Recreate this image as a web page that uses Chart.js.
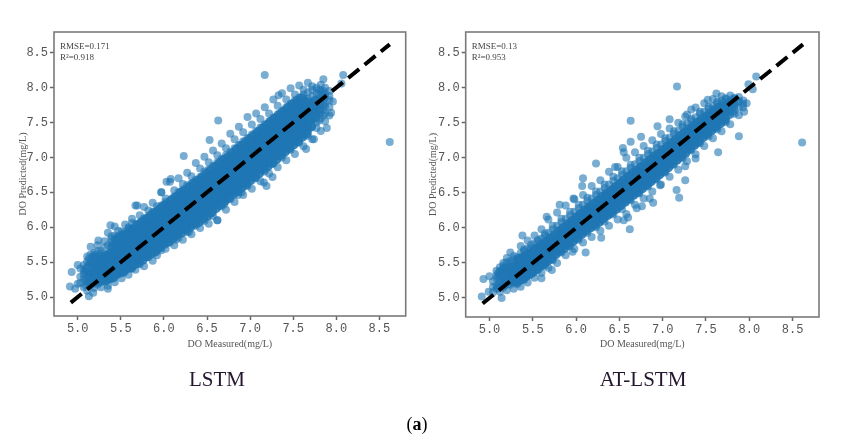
<!DOCTYPE html>
<html>
<head>
<meta charset="utf-8">
<title>LSTM vs AT-LSTM</title>
<script src="https://cdn.jsdelivr.net/npm/chart.js@4"></script>
<style>
  html, body { margin: 0; padding: 0; background: #fff; }
  #page { position: relative; width: 865px; height: 441px; overflow: hidden; }
  canvas { position: absolute; top: 0; filter: blur(0.45px); }
  #lstmChart { left: 0; }
  #atChart { left: 410px; }
  .caption { position: absolute; font-family: "Liberation Serif", serif; color: #24162f; white-space: nowrap; transform: translateX(-50%); filter: blur(0.3px); }
</style>
</head>
<body>
<div id="page">
  <canvas id="lstmChart"></canvas>
  <canvas id="atChart"></canvas>
  <div class="caption" style="left:217px;top:367px;font-size:21px">LSTM</div>
  <div class="caption" style="left:643px;top:367px;font-size:21px">AT-LSTM</div>
  <div class="caption" style="left:417px;top:414px;font-size:18px;color:#000">(<b>a</b>)</div>
</div>
<script>
// Tick labels
const tickValues = [5.0, 5.5, 6.0, 6.5, 7.0, 7.5, 8.0, 8.5];
const idealLine = [4.92, 8.62];

// LSTM: each row is one measured value followed by the predicted values read at it
const lstmColumns = [
  [5.03,5.2,5.29,5.41],
  [5.07,5.14,5.26,5.33,5.38,5.46],
  [5.09,5.17,5.24,5.36,5.41],
  [5.11,5.09,5.21,5.28,5.37,5.43,5.51,5.58],
  [5.13,5.19,5.27,5.33,5.46,5.55],
  [5.15,5.17,5.23,5.34,5.37,5.49,5.5,5.61,5.72],
  [5.17,5.21,5.34,5.29,5.42,5.48,5.57],
  [5.19,5.13,5.27,5.33,5.42,5.46,5.56,5.6,5.63],
  [5.21,5.2,5.31,5.38,5.44,5.59,5.52],
  [5.23,5.18,5.25,5.36,5.41,5.52,5.55,5.66,5.74],
  [5.27,5.14,5.31,5.36,5.45,5.5,5.59,5.62,5.66],
  [5.31,5.22,5.29,5.39,5.44,5.55,5.6,5.71,5.8],
  [5.35,5.16,5.33,5.41,5.46,5.58,5.61,5.74,5.92],
  [5.39,5.26,5.3,5.44,5.48,5.59,5.64,5.78,5.83,5.87],
  [5.43,5.21,5.36,5.43,5.52,5.58,5.69,5.75,5.88,6.01],
  [5.47,5.33,5.37,5.49,5.53,5.64,5.69,5.81,5.87,5.95],
  [5.51,5.27,5.41,5.47,5.57,5.63,5.74,5.8,5.94,5.9],
  [5.55,5.38,5.44,5.54,5.58,5.69,5.74,5.86,5.93,6.04],
  [5.59,5.32,5.46,5.53,5.62,5.68,5.79,5.85,5.98,6.0],
  [5.63,5.41,5.47,5.58,5.63,5.73,5.79,5.91,5.98,6.12],
  [5.67,5.39,5.52,5.58,5.68,5.74,5.85,5.91,6.05,6.31],
  [5.72,5.47,5.53,5.64,5.7,5.81,5.86,5.98,6.06,6.17],
  [5.77,5.44,5.58,5.65,5.76,5.83,5.93,6.0,6.13,6.29],
  [5.82,5.57,5.62,5.73,5.78,5.89,5.95,6.06,6.15,6.24],
  [5.87,5.52,5.69,5.74,5.85,5.91,6.03,6.09,6.22,6.35],
  [5.92,5.6,5.7,5.81,5.87,5.98,6.04,6.16,6.24,6.3],
  [5.97,5.67,5.75,5.83,5.94,6.0,6.11,6.18,6.31,6.5],
  [6.02,5.69,5.81,5.88,5.98,6.05,6.16,6.23,6.36,6.41],
  [6.07,5.78,5.83,5.94,6.01,6.12,6.19,6.3,6.38,6.65],
  [6.12,5.74,5.88,5.99,6.06,6.17,6.24,6.35,6.44,6.53],
  [6.17,5.85,5.93,6.01,6.12,6.19,6.3,6.37,6.5,6.7],
  [6.22,5.82,5.96,6.07,6.14,6.26,6.33,6.44,6.54,6.62],
  [6.27,5.93,6.02,6.09,6.21,6.28,6.39,6.47,6.6,6.78],
  [6.32,5.9,6.04,6.16,6.23,6.35,6.42,6.54,6.63,6.73],
  [6.37,6.02,6.09,6.2,6.28,6.39,6.47,6.58,6.68,6.92],
  [6.42,5.99,6.13,6.25,6.33,6.44,6.52,6.63,6.72,6.84],
  [6.47,6.09,6.17,6.29,6.37,6.49,6.56,6.68,6.8,7.01],
  [6.52,6.05,6.2,6.33,6.41,6.53,6.6,6.72,6.83,6.93],
  [6.57,6.16,6.26,6.38,6.46,6.57,6.65,6.77,6.88,7.1],
  [6.62,6.1,6.31,6.43,6.5,6.62,6.7,6.82,6.93,7.03],
  [6.67,6.3,6.37,6.48,6.56,6.67,6.75,6.87,6.98,7.2],
  [6.72,6.25,6.42,6.53,6.6,6.72,6.8,6.92,7.03,7.13],
  [6.77,6.4,6.47,6.58,6.65,6.77,6.85,6.97,7.08,7.34],
  [6.82,6.36,6.52,6.63,6.7,6.82,6.9,7.02,7.13,7.26],
  [6.87,6.5,6.57,6.68,6.75,6.87,6.95,7.07,7.18,7.44],
  [6.92,6.46,6.62,6.73,6.8,6.92,7.0,7.12,7.23,7.36],
  [6.97,6.59,6.67,6.78,6.85,6.97,7.05,7.17,7.28,7.58],
  [7.02,6.55,6.72,6.83,6.9,7.02,7.1,7.22,7.33,7.47],
  [7.07,6.7,6.77,6.88,6.95,7.07,7.15,7.27,7.38,7.63],
  [7.12,6.66,6.82,6.93,7.0,7.12,7.2,7.32,7.43,7.55],
  [7.17,6.8,6.87,6.98,7.05,7.17,7.25,7.37,7.47,7.72],
  [7.22,6.77,6.92,7.03,7.1,7.22,7.3,7.42,7.52,7.63],
  [7.27,6.91,6.97,7.08,7.16,7.27,7.35,7.47,7.57,7.83],
  [7.32,6.86,7.02,7.13,7.21,7.32,7.4,7.52,7.62,7.74],
  [7.37,7.0,7.07,7.18,7.26,7.37,7.45,7.57,7.66,7.92],
  [7.42,6.96,7.12,7.23,7.31,7.42,7.5,7.62,7.72,7.83],
  [7.47,7.11,7.17,7.28,7.36,7.47,7.55,7.67,7.77,7.99],
  [7.52,7.05,7.22,7.33,7.4,7.52,7.6,7.72,7.82,7.9],
  [7.57,7.21,7.27,7.38,7.45,7.57,7.65,7.76,7.86,8.03],
  [7.62,7.16,7.33,7.44,7.5,7.62,7.69,7.8,7.9,7.97],
  [7.67,7.31,7.38,7.49,7.55,7.66,7.73,7.84,7.93,8.07],
  [7.72,7.26,7.44,7.54,7.6,7.7,7.77,7.88,7.97,8.02],
  [7.77,7.42,7.5,7.6,7.66,7.76,7.82,7.92,8.0],
  [7.8,7.53,7.62,7.77,7.69,7.84,7.91,7.97],
  [7.82,7.38,7.56,7.66,7.71,7.81,7.86,7.96,8.04],
  [7.85,7.6,7.68,7.83,7.75,7.9,7.95],
  [7.87,7.52,7.63,7.73,7.78,7.87,7.92,8.0],
  [7.92,7.6,7.72,7.82,7.88,7.95]
];
// denser middle of the LSTM cloud
const lstmCoreColumns = [
  [5.25,5.23,5.3,5.41,5.47],
  [5.29,5.26,5.33,5.44,5.39,5.54],
  [5.33,5.25,5.37,5.48,5.43,5.56],
  [5.37,5.28,5.35,5.5,5.42,5.61],
  [5.41,5.29,5.39,5.53,5.46,5.62,5.72],
  [5.45,5.34,5.42,5.56,5.49,5.66,5.76,5.82],
  [5.49,5.36,5.44,5.59,5.51,5.68,5.79,5.84],
  [5.53,5.37,5.49,5.62,5.56,5.71,5.82,5.87],
  [5.57,5.42,5.48,5.65,5.59,5.73,5.83,5.89],
  [5.61,5.43,5.53,5.67,5.6,5.77,5.86,5.93],
  [5.65,5.47,5.56,5.7,5.64,5.79,5.9,5.96],
  [5.7,5.5,5.6,5.76,5.67,5.85,5.96,6.02],
  [5.75,5.54,5.63,5.79,5.71,5.88,5.99,6.07],
  [5.8,5.59,5.69,5.84,5.76,5.93,6.03,6.11],
  [5.85,5.63,5.72,5.88,5.8,5.98,6.08,6.16],
  [5.9,5.66,5.77,5.93,5.85,6.02,6.12,6.2],
  [5.95,5.72,5.8,5.97,5.9,6.07,6.17,6.25],
  [6.0,5.77,5.86,6.03,5.93,6.13,6.2,6.3],
  [6.05,5.8,5.9,6.07,5.98,6.16,6.26,6.33],
  [6.1,5.85,5.96,6.12,6.03,6.21,6.31,6.39],
  [6.15,5.9,5.99,6.16,6.08,6.26,6.35,6.43],
  [6.2,5.93,6.04,6.2,6.12,6.3,6.39,6.49],
  [6.25,5.98,6.07,6.26,6.17,6.35,6.44,6.52],
  [6.3,6.01,6.12,6.3,6.21,6.4,6.48,6.57],
  [6.35,6.06,6.15,6.35,6.25,6.44,6.53,6.62],
  [6.4,6.08,6.2,6.4,6.3,6.49,6.58,6.66],
  [6.45,6.13,6.24,6.44,6.35,6.54,6.63,6.71],
  [6.5,6.17,6.28,6.49,6.39,6.59,6.67,6.76],
  [6.55,6.22,6.33,6.53,6.43,6.63,6.72,6.81],
  [6.6,6.28,6.38,6.58,6.48,6.68,6.77,6.86],
  [6.65,6.33,6.42,6.63,6.53,6.73,6.82,6.91],
  [6.7,6.38,6.48,6.68,6.58,6.78,6.87,6.96],
  [6.75,6.43,6.52,6.73,6.63,6.83,6.92,7.0],
  [6.8,6.48,6.58,6.78,6.68,6.88,6.97,7.05],
  [6.85,6.53,6.62,6.83,6.73,6.93,7.02,7.11],
  [6.9,6.58,6.68,6.88,6.78,6.98,7.07,7.16],
  [6.95,6.63,6.72,6.93,6.83,7.03,7.12,7.21],
  [7.0,6.68,6.78,6.98,6.88,7.08,7.17,7.26],
  [7.05,6.73,6.83,7.03,6.93,7.13,7.22,7.31],
  [7.1,6.78,6.88,7.08,6.98,7.18,7.27,7.36],
  [7.15,6.84,6.93,7.13,7.03,7.23,7.32,7.41],
  [7.2,6.88,6.98,7.18,7.08,7.28,7.37,7.46],
  [7.25,6.93,7.03,7.23,7.13,7.33,7.42,7.51],
  [7.3,6.98,7.08,7.28,7.18,7.38,7.47,7.56],
  [7.35,7.04,7.14,7.33,7.23,7.43,7.52,7.61],
  [7.4,7.09,7.19,7.38,7.28,7.48,7.57,7.66],
  [7.45,7.14,7.24,7.43,7.33,7.53,7.62,7.71],
  [7.5,7.19,7.29,7.48,7.38,7.58,7.67,7.76],
  [7.55,7.24,7.34,7.53,7.43,7.63,7.71,7.8],
  [7.6,7.3,7.4,7.58,7.48,7.67,7.75,7.84],
  [7.65,7.35,7.45,7.62,7.53,7.71,7.79],
  [7.7,7.45,7.55,7.67,7.6,7.75],
  [7.75,7.58,7.64,7.72,7.8]
];
const lstmOutliersX = [4.91,4.93,5.0,5.0,4.97,5.13,5.18,5.24,5.38,5.35,7.17,8.62,6.63,6.53,7.33,7.85,8.08,8.06,7.65,7.74,7.89,7.96,7.94,7.19,7.16,7.26,6.96,6.86,6.23,6.08,5.97,6.03,6.62,6.7,6.9,6.29,6.14,5.69,5.63];
const lstmOutliersY = [5.15,5.36,5.46,5.19,5.12,5.01,5.06,5.81,6.03,5.12,8.18,7.22,7.53,7.25,7.89,8.12,8.18,8.06,7.12,7.26,7.42,7.8,7.64,6.59,6.64,6.72,6.61,6.46,7.02,6.69,6.5,6.65,6.1,6.33,6.5,5.93,5.82,6.31,6.06];

// AT-LSTM, same layout
const atColumns = [
  [5.04,5.08,5.16,5.24],
  [5.08,5.13,5.17,5.28,5.32],
  [5.1,5.14,5.2,5.3,5.36],
  [5.12,5.09,5.18,5.25,5.34,5.38,5.44],
  [5.14,5.16,5.22,5.31,5.39],
  [5.16,5.15,5.2,5.29,5.32,5.42,5.46,5.5],
  [5.18,5.18,5.25,5.35,5.43],
  [5.2,5.11,5.24,5.28,5.37,5.41,5.51,5.57],
  [5.22,5.2,5.27,5.37,5.45],
  [5.24,5.19,5.23,5.33,5.36,5.46,5.5,5.53],
  [5.28,5.13,5.27,5.31,5.41,5.45,5.55,5.6],
  [5.32,5.2,5.22,5.31,5.35,5.44,5.48,5.58,5.56],
  [5.36,5.16,5.29,5.34,5.44,5.48,5.58,5.64,5.74],
  [5.4,5.26,5.3,5.4,5.44,5.54,5.58,5.69,5.67],
  [5.44,5.22,5.33,5.43,5.47,5.56,5.6,5.71,5.82],
  [5.48,5.34,5.37,5.46,5.5,5.59,5.63,5.72,5.76],
  [5.52,5.29,5.4,5.49,5.53,5.63,5.67,5.78,5.89],
  [5.56,5.4,5.44,5.53,5.57,5.66,5.7,5.81,5.83],
  [5.6,5.36,5.48,5.57,5.6,5.7,5.74,5.85,5.98],
  [5.64,5.46,5.51,5.61,5.64,5.74,5.78,5.89,5.92],
  [5.68,5.43,5.55,5.65,5.68,5.78,5.82,5.93,6.12],
  [5.73,5.54,5.6,5.7,5.73,5.83,5.87,5.98,6.03],
  [5.78,5.5,5.65,5.75,5.78,5.88,5.92,6.03,6.22],
  [5.83,5.65,5.71,5.8,5.83,5.93,5.97,6.08,6.13],
  [5.88,5.61,5.75,5.84,5.88,5.98,6.02,6.13,6.32],
  [5.93,5.74,5.79,5.89,5.93,6.03,6.07,6.18,6.23],
  [5.98,5.7,5.85,5.95,5.98,6.08,6.12,6.23,6.41],
  [6.03,5.83,5.89,5.99,6.03,6.13,6.17,6.28,6.33],
  [6.08,5.79,5.94,6.04,6.08,6.18,6.22,6.33,6.47],
  [6.13,5.93,5.99,6.09,6.13,6.23,6.27,6.38,6.43],
  [6.18,5.87,6.03,6.13,6.17,6.27,6.31,6.42,6.6],
  [6.23,6.01,6.07,6.17,6.22,6.32,6.36,6.47,6.52],
  [6.28,5.96,6.11,6.22,6.26,6.36,6.41,6.52,6.68],
  [6.33,6.09,6.16,6.27,6.31,6.41,6.46,6.57,6.62],
  [6.38,6.03,6.2,6.31,6.36,6.46,6.51,6.62,6.8],
  [6.43,6.19,6.25,6.36,6.41,6.51,6.56,6.67,6.73],
  [6.48,6.12,6.3,6.41,6.45,6.56,6.6,6.71,6.87],
  [6.53,6.27,6.35,6.46,6.5,6.61,6.65,6.76,6.81],
  [6.58,6.2,6.4,6.5,6.55,6.65,6.7,6.81,7.0],
  [6.63,6.39,6.45,6.55,6.59,6.7,6.75,6.86,6.9],
  [6.68,6.33,6.5,6.6,6.64,6.75,6.8,6.91,7.08],
  [6.73,6.49,6.54,6.64,6.69,6.79,6.84,6.95,7.0],
  [6.78,6.42,6.59,6.69,6.74,6.84,6.89,7.0,7.17],
  [6.83,6.59,6.64,6.74,6.79,6.89,6.94,7.05,7.1],
  [6.88,6.52,6.69,6.79,6.83,6.94,6.98,7.09,7.25],
  [6.93,6.69,6.74,6.84,6.88,6.99,7.03,7.14,7.19],
  [6.98,6.62,6.79,6.89,6.93,7.03,7.08,7.19,7.34],
  [7.03,6.79,6.84,6.94,6.98,7.08,7.13,7.24,7.28],
  [7.08,6.73,6.89,6.99,7.03,7.13,7.18,7.29,7.42],
  [7.13,6.9,6.95,7.04,7.08,7.18,7.23,7.34,7.38],
  [7.18,6.83,7.0,7.09,7.13,7.23,7.28,7.39,7.5],
  [7.23,6.99,7.05,7.14,7.18,7.28,7.33,7.44,7.48],
  [7.28,6.95,7.11,7.2,7.23,7.33,7.38,7.49,7.62],
  [7.33,7.11,7.16,7.25,7.28,7.38,7.42,7.53,7.56],
  [7.38,7.05,7.2,7.29,7.33,7.43,7.47,7.58,7.72],
  [7.43,7.21,7.26,7.35,7.38,7.48,7.52,7.63,7.66],
  [7.48,7.17,7.32,7.4,7.43,7.52,7.56,7.66,7.78],
  [7.53,7.31,7.37,7.45,7.48,7.57,7.6,7.7,7.73],
  [7.58,7.28,7.42,7.5,7.53,7.62,7.65,7.74,7.84],
  [7.63,7.41,7.47,7.55,7.58,7.66,7.69,7.78,7.8],
  [7.68,7.38,7.52,7.6,7.62,7.71,7.73,7.82,7.88],
  [7.73,7.51,7.57,7.65,7.67,7.75,7.77,7.85,7.84],
  [7.76,7.6,7.67,7.74,7.8],
  [7.78,7.48,7.62,7.7,7.72,7.8,7.81,7.89],
  [7.81,7.65,7.72,7.78,7.84],
  [7.83,7.63,7.68,7.75,7.77,7.84,7.86],
  [7.88,7.61,7.72,7.8,7.81,7.87],
  [7.93,7.72,7.77,7.82]
];
// denser middle of the AT-LSTM cloud
const atCoreColumns = [
  [5.26,5.25,5.3,5.39],
  [5.3,5.24,5.33,5.42],
  [5.34,5.26,5.35,5.45,5.53],
  [5.38,5.28,5.38,5.47,5.56],
  [5.42,5.32,5.41,5.5,5.59],
  [5.46,5.35,5.45,5.53,5.62],
  [5.5,5.38,5.47,5.57,5.65],
  [5.54,5.42,5.51,5.6,5.69],
  [5.58,5.46,5.54,5.64,5.72],
  [5.62,5.49,5.58,5.67,5.76],
  [5.66,5.53,5.62,5.71,5.8],
  [5.71,5.57,5.67,5.76,5.85],
  [5.76,5.63,5.72,5.8,5.9],
  [5.81,5.68,5.77,5.86,5.95],
  [5.86,5.72,5.81,5.9,6.0],
  [5.91,5.77,5.86,5.96,6.05],
  [5.96,5.82,5.92,6.0,6.1],
  [6.01,5.87,5.96,6.06,6.15],
  [6.06,5.92,6.01,6.11,6.2],
  [6.11,5.97,6.06,6.16,6.25],
  [6.16,6.01,6.1,6.2,6.3],
  [6.21,6.05,6.15,6.25,6.34],
  [6.26,6.09,6.19,6.29,6.39],
  [6.31,6.14,6.24,6.34,6.44],
  [6.36,6.19,6.28,6.38,6.49],
  [6.41,6.23,6.33,6.43,6.53],
  [6.46,6.28,6.38,6.48,6.58],
  [6.51,6.33,6.43,6.53,6.63],
  [6.56,6.38,6.48,6.58,6.68],
  [6.61,6.43,6.52,6.62,6.73],
  [6.66,6.48,6.57,6.67,6.78],
  [6.71,6.52,6.62,6.72,6.82],
  [6.76,6.57,6.67,6.77,6.87],
  [6.81,6.62,6.72,6.82,6.92],
  [6.86,6.67,6.77,6.87,6.97],
  [6.91,6.72,6.82,6.92,7.02],
  [6.96,6.77,6.87,6.97,7.06],
  [7.01,6.82,6.92,7.02,7.11],
  [7.06,6.87,6.97,7.06,7.16],
  [7.11,6.93,7.02,7.11,7.21],
  [7.16,6.98,7.07,7.16,7.26],
  [7.21,7.03,7.12,7.21,7.31],
  [7.26,7.08,7.17,7.26,7.36],
  [7.31,7.14,7.23,7.31,7.41],
  [7.36,7.19,7.28,7.36,7.45],
  [7.41,7.24,7.33,7.41,7.5],
  [7.46,7.3,7.38,7.46,7.55],
  [7.51,7.35,7.43,7.51,7.59],
  [7.56,7.4,7.48,7.56,7.63],
  [7.61,7.45,7.53,7.6,7.68],
  [7.66,7.5,7.58,7.65,7.72],
  [7.71,7.55,7.62,7.7,7.76]
];
const atOutliersX = [4.93,5.0,4.91,4.99,5.08,5.14,5.24,5.38,5.6,5.72,6.11,6.29,5.96,5.66,5.81,5.97,7.165,8.61,6.63,6.75,6.63,6.54,6.55,7.33,7.52,7.62,7.88,7.64,7.26,7.16,7.19,8.08,7.99,8.04,7.97,7.94,7.08,6.94,7.26,7.38,7.26,6.97,6.62,6.76,6.7,6.89,6.85,6.6,6.55,6.23,6.08,6.07,6.45];
const atOutliersY = [5.27,5.31,5.02,5.09,5.39,5.0,5.65,5.89,5.28,5.4,5.65,5.86,5.66,6.16,6.33,6.42,8.02,7.22,7.53,7.3,7.23,7.14,7.08,7.69,7.83,7.92,7.31,7.08,6.68,6.54,6.43,8.16,8.05,7.98,7.78,7.66,7.55,7.45,7.59,6.99,6.88,6.61,5.98,6.31,6.28,6.36,6.42,6.15,6.11,6.92,6.71,6.6,6.87];

// colonne -> titik {x, y}
function columnsToPoints(columns) {
  const pts = [];
  columns.forEach(col => col.slice(1).forEach(y => pts.push({ x: col[0], y: y })));
  return pts;
}

// frame on all four sides plus the RMSE / R2 note
const panelExtras = {
  id: 'panelExtras',
  afterDraw(chart, args, opts) {
    const ctx = chart.ctx, a = chart.chartArea;
    ctx.save();
    ctx.strokeStyle = '#7a7a7a';
    ctx.lineWidth = 1.6;
    ctx.strokeRect(a.left, a.top, a.right - a.left, a.bottom - a.top);
    ctx.fillStyle = '#444';
    ctx.font = '9px "Liberation Serif"';
    ctx.textBaseline = 'middle';
    opts.notes.forEach((t, i) => ctx.fillText(t, a.left + 6, a.top + 15 + i * 11));
    ctx.restore();
  }
};

function axisOptions(min, max, label, fitKey, fitSize, titlePadding) {
  return {
    type: 'linear',
    min: min,
    max: max,
    afterBuildTicks: s => { s.ticks = tickValues.map(v => ({ value: v })); },
    afterFit: s => { s[fitKey] = fitSize; },
    grid: { drawOnChartArea: false, tickLength: 4, tickWidth: 1.5, tickColor: '#666' },
    border: { display: false },
    ticks: {
      autoSkip: false,
      maxRotation: 0,
      padding: 2,
      color: '#555',
      font: { family: '"Liberation Mono"', size: 12 },
      callback: v => v.toFixed(1)
    },
    title: {
      display: true,
      text: label,
      color: '#555',
      font: { family: '"Liberation Serif"', size: 10 },
      padding: titlePadding
    }
  };
}

function makeChart(id, width, columns, core, outX, outY, notes, pad, yFit, xFit) {
  const canvas = document.getElementById(id);
  canvas.style.width = width + 'px';
  canvas.style.height = '360px';
  canvas.width = width;
  canvas.height = 360;
  const loose = columnsToPoints(columns).concat(outX.map((x, i) => ({ x: x, y: outY[i] })));
  return new Chart(canvas.getContext('2d'), {
    type: 'scatter',
    data: {
      datasets: [{
        type: 'line',
        data: idealLine.map(v => ({ x: v, y: v })),
        borderColor: '#000',
        borderWidth: 4,
        borderDash: [14, 7],
        pointRadius: 0,
        order: 0
      }, {
        // the middle overlaps so much in the reference that it reads as solid
        data: columnsToPoints(core),
        backgroundColor: 'rgba(31, 119, 180, 0.9)',
        borderWidth: 0,
        pointRadius: 5.5,
        order: 1
      }, {
        data: loose,
        backgroundColor: 'rgba(31, 119, 180, 0.6)',
        borderWidth: 0,
        pointRadius: 4,
        order: 2
      }]
    },
    options: {
      responsive: false,
      animation: false,
      layout: { padding: pad, autoPadding: false },
      plugins: {
        legend: { display: false },
        tooltip: { enabled: false },
        panelExtras: { notes: notes }
      },
      scales: {
        x: axisOptions(4.725, 8.805, 'DO Measured(mg/L)', 'height', xFit, { top: 0, bottom: 10 }),
        y: axisOptions(4.728, 8.797, 'DO Predicted(mg/L)', 'width', yFit, { top: 17, bottom: 0 })
      }
    },
    plugins: [panelExtras]
  });
}

makeChart('lstmChart', 410, lstmColumns, lstmCoreColumns, lstmOutliersX, lstmOutliersY,
  ['RMSE=0.171', 'R²=0.918'], { top: 32, right: 4.3, left: 0, bottom: 0 }, 54, 44);
makeChart('atChart', 430, atColumns, atCoreColumns, atOutliersX, atOutliersY,
  ['RMSE=0.13', 'R²=0.953'], { top: 32, right: 21, left: 0, bottom: 0 }, 55.7, 43);
</script>
</body>
</html>
